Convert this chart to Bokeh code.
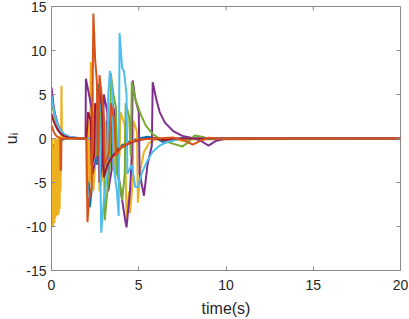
import math
from bokeh.plotting import figure
from bokeh.models import Range1d, FixedTicker
from bokeh.embed import file_html
from bokeh.resources import INLINE

# ---- data ----
X_TICKS = [0, 5, 10, 15, 20]
Y_TICKS = [-15, -10, -5, 0, 5, 10, 15]
X_LABELS = ["0", "5", "10", "15", "20"]
Y_LABELS = ["-15", "-10", "-5", "0", "5", "10", "15"]

T_BLUE = [0, 0.1, 0.2, 0.35, 0.5, 0.7, 1.0, 2.0, 2.1, 2.2, 2.35, 2.4, 2.55, 2.6, 2.7, 2.85, 2.9, 3.1, 3.2, 3.5, 3.6, 4.0, 4.5, 5.0, 5.5, 6.0, 6.5, 7.0, 7.5, 8.0, 20]
U_BLUE = [-1.3, -0.9, -0.6, -0.35, -0.2, -0.1, 0, 0, -2, -7.8, -5, 3, 2, -3, 6.2, 4, -2, -1, 2, 1, -1.5, -0.8, -0.3, 0, 0.2, 0, -0.5, -0.2, 0.1, 0, 0]

T_YELLOW = [0, 0.01, 0.04, 0.05, 0.08, 0.1, 0.12, 0.15, 0.17, 0.2, 0.22, 0.25, 0.27, 0.3, 0.32, 0.35, 0.37, 0.4, 0.42, 0.45, 0.47, 0.5, 0.52, 0.55, 0.57, 0.6, 0.7, 2.0, 2.02, 2.1, 2.12, 2.2, 2.25, 2.35, 2.4, 2.5, 2.55, 2.7, 2.75, 2.9, 2.92, 3.1, 3.15, 3.3, 3.35, 3.6, 3.65, 3.9, 3.95, 4.2, 4.3, 4.45, 4.5, 4.65, 4.7, 4.9, 4.95, 5.1, 5.3, 5.6, 6.0, 7.0, 7.5, 8.0, 20]
U_YELLOW = [0, -9.8, -9.8, 0, -10, -2, -9.5, -1, -9.6, 0, -9.0, -3, -8.8, 0, -8.5, -2, -8.7, 0, -8.5, -1, -8.0, 0, -6, 0, 6.0, 0.5, 0, 0, -6.3, -4, 2, -5, 8.7, 5, -6, -3, 4, 2, -6, -4.5, 3, 1.5, -5, -3, 2, 0.8, -4, -2, 3, 1.5, -9.1, -6, -8.5, -5, 2, 0.8, -7.3, -3.5, -1.5, -0.5, -0.1, 0, -0.3, -0.1, 0]

T_PURPLE = [0, 0.1, 0.2, 0.35, 0.5, 0.7, 1.0, 1.5, 1.95, 1.97, 2.15, 2.3, 2.35, 2.5, 2.55, 2.7, 2.75, 2.9, 3.0, 3.2, 3.25, 3.45, 3.5, 3.7, 3.75, 4.2, 4.3, 4.5, 4.6, 4.65, 4.8, 5.0, 5.05, 5.3, 5.5, 5.75, 5.8, 6.0, 6.2, 6.5, 7.0, 7.5, 8.0, 8.5, 9.0, 9.4, 10.0, 20]
U_PURPLE = [5.8, 4.0, 2.8, 1.7, 1.0, 0.5, 0.2, 0.05, 0, 6.8, 5, 3.5, -4, -2.5, 3, 1.8, -5, -3, 5, 3, -6, -3.5, 4, 2, -3, -9, -10.1, -6, -2, 6.6, 4.5, 3, -4, -6.5, -3, -0.8, 6.4, 4.5, 3.0, 1.8, 0.8, 0.3, 0.1, -0.2, -0.8, -0.3, 0, 0]

T_GREEN = [0, 0.1, 0.2, 0.35, 0.5, 0.7, 1.0, 1.5, 2.5, 2.6, 2.8, 2.85, 3.0, 3.05, 3.2, 3.35, 3.4, 3.55, 3.7, 3.75, 3.95, 4.05, 4.2, 4.25, 4.45, 4.55, 4.6, 4.8, 5.1, 5.4, 5.8, 6.2, 6.8, 7.5, 7.8, 8.2, 8.6, 9.0, 20]
U_GREEN = [4.6, 3.3, 2.3, 1.4, 0.9, 0.4, 0.15, 0, 0, -2, -1, 3, 2, -9.3, -6, -3, 7.4, 5, 3.5, -4, -5.5, -7, -4, 4, 2.5, -2, 6.4, 4.5, 2.8, 1.5, 0.5, 0, -0.5, -0.9, -0.5, 0.35, 0.2, 0, 0]

T_LIGHTBLUE = [0, 0.1, 0.2, 0.35, 0.5, 0.7, 1.0, 1.5, 2.3, 2.35, 2.5, 2.55, 2.75, 2.85, 3.0, 3.2, 3.25, 3.35, 3.5, 3.55, 3.75, 3.85, 3.9, 4.05, 4.15, 4.3, 4.35, 4.6, 4.8, 4.95, 5.2, 5.5, 5.8, 6.2, 6.6, 7.0, 7.5, 20]
U_LIGHTBLUE = [4.8, 3.6, 2.6, 1.6, 1.0, 0.5, 0.2, 0.05, 0, -3, -2, 4, 2.5, -10.7, -7, -4, 5, 7.7, 5, -3, -6, -8.8, 12, 8, 7.7, 5, -4, -3, -5.5, -5.5, -3.8, -2.5, -1.5, -0.8, -0.4, -0.2, 0, 0]

T_RED = [0, 0.1, 0.2, 0.35, 0.5, 0.7, 1.0, 1.5, 2.0, 2.1, 2.25, 2.3, 2.45, 2.5, 2.7, 2.75, 2.9, 3.0, 3.2, 3.5, 3.8, 4.2, 4.6, 5.0, 5.5, 6.0, 6.5, 7.0, 20]
U_RED = [2.8, 2.1, 1.6, 1.0, 0.6, 0.3, 0.1, 0, 0, 3, 2, -3, -2, 4, 3, 5.8, 3.5, -4.4, -3, -2, -1.3, -0.8, -0.4, -0.2, 0, 0, -0.2, 0, 0]

T_ORANGE = [0, 0.1, 0.2, 0.3, 0.45, 0.5, 0.52, 0.55, 0.57, 1.0, 2.0, 2.06, 2.15, 2.3, 2.4, 2.5, 2.6, 2.65, 2.7, 2.75, 2.9, 3.0, 3.05, 3.3, 3.4, 3.6, 3.7, 4.0, 4.5, 5.0, 6.0, 7.0, 7.6, 8.1, 8.5, 9.0, 9.5, 20]
U_ORANGE = [1.5, 0.9, 0.5, 0.25, 0.1, 0, -3.6, -3.6, 0, 0, 0, -9.5, -7, -5.5, 14.2, 9, 6.5, -2, -1, 7.2, 4.5, 2.5, -3, -1.5, 4, 2, -2, -1, -0.4, -0.1, 0, 0.1, -0.2, -0.7, -0.3, 0.1, 0, 0]

SERIES = [
    (T_BLUE, U_BLUE, "#0072BD"),
    (T_YELLOW, U_YELLOW, "#EDB120"),
    (T_PURPLE, U_PURPLE, "#7E2F8E"),
    (T_GREEN, U_GREEN, "#77AC30"),
    (T_LIGHTBLUE, U_LIGHTBLUE, "#4DBEEE"),
    (T_RED, U_RED, "#A2142F"),
    (T_ORANGE, U_ORANGE, "#D95319"),
]

X_MIN, X_MAX = 0, 20
Y_MIN, Y_MAX = -15, 15

FONT = "Liberation Sans"
TXT = "#262626"
AX = "#8a8a8a"

p = figure(width=409, height=319, output_backend="svg", toolbar_location=None,
           x_range=Range1d(X_MIN, X_MAX), y_range=Range1d(Y_MIN, Y_MAX),
           min_border_left=51, min_border_right=9, min_border_top=6, min_border_bottom=49)
p.styles = {"position": "absolute", "top": "0px", "left": "0px"}
p.background_fill_color = "white"
p.border_fill_color = "white"
p.outline_line_color = AX
p.outline_line_width = 1
p.xgrid.visible = False
p.ygrid.visible = False

for t, u, c in SERIES:
    p.line(t, u, line_color=c, line_width=2)

# inward ticks on the top and right edges of the box
p.ray(x=X_TICKS, y=[Y_MAX] * len(X_TICKS), length=4, length_units="screen",
      angle=-math.pi / 2, line_color=AX, line_width=1)
p.ray(x=[X_MAX] * len(Y_TICKS), y=Y_TICKS, length=4, length_units="screen",
      angle=math.pi, line_color=AX, line_width=1)

def style_axis(ax, ticks, labels):
    ax.ticker = FixedTicker(ticks=ticks)
    ax.major_label_overrides = {k: v for k, v in zip(ticks, labels)}
    ax.minor_tick_line_color = None
    ax.major_tick_in = 4
    ax.major_tick_out = 0
    ax.major_tick_line_color = AX
    ax.axis_line_color = AX
    ax.major_label_text_font = FONT
    ax.major_label_text_color = TXT
    ax.major_label_text_font_size = "14px"
    ax.axis_label_text_font = FONT
    ax.axis_label_text_color = TXT
    ax.axis_label_text_font_style = "normal"
    ax.axis_label_text_font_size = "16px"

xa = p.xaxis[0]
ya = p.yaxis[0]
style_axis(xa, X_TICKS, X_LABELS)
style_axis(ya, Y_TICKS, Y_LABELS)
xa.axis_label = "time(s)"
ya.axis_label = "uᵢ"
xa.major_label_standoff = 9
xa.axis_label_standoff = 7
ya.major_label_standoff = 5
ya.axis_label_standoff = 3

open("out.html", "w").write(file_html(p, INLINE))
